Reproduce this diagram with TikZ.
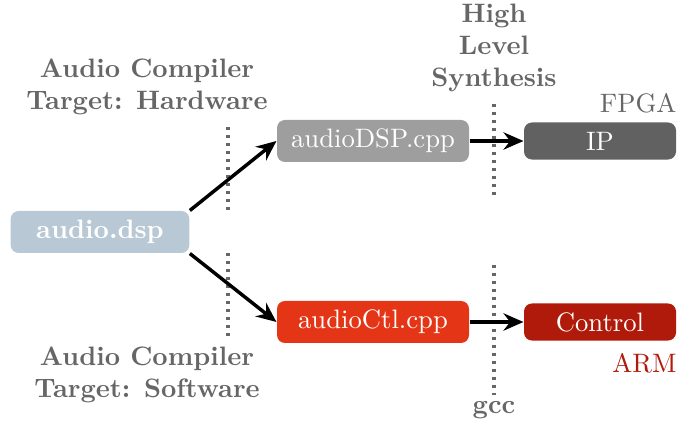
\documentclass[tikz,border=0pt]{standalone}
\usetikzlibrary{arrows.meta}
\definecolor{srcblue}{HTML}{B8C8D4}
\definecolor{cppgray}{HTML}{9E9E9E}
\definecolor{ipgray}{HTML}{616161}
\definecolor{ctlred}{HTML}{E53517}
\definecolor{armred}{HTML}{B01A0A}
\definecolor{labgray}{HTML}{666666}
\tikzset{
  box/.style={rounded corners=3pt, text=white, inner sep=0pt, minimum height=15.75pt},
  lab/.style={text=labgray, font=\bfseries, align=center, inner sep=0pt},
  conn/.style={line width=1.3pt, -{Stealth[length=7.5pt,width=6.5pt,inset=2.5pt]}},
  sep/.style={draw=labgray, line width=1.3pt, dash pattern=on 1.3pt off 1.7pt}
}
\begin{document}
\begin{tikzpicture}[x=0.375pt,y=-0.375pt]
\useasboundingbox (0,0) rectangle (678,423);
\node[box, fill=srcblue, minimum width=67pt, font=\bfseries] (dsp) at (100,232) {audio.dsp};
\node[box, fill=cppgray, minimum width=72pt] (dspcpp) at (373,141) {audioDSP.cpp};
\node[box, fill=ctlred, minimum width=72pt] (ctl) at (373,322) {audioCtl.cpp};
\node[box, fill=ipgray, minimum width=57pt, minimum height=13.9pt] (ip) at (600,141) {IP};
\node[box, fill=armred, minimum width=57pt, minimum height=13.9pt] (control) at (600,322) {Control};
\node[anchor=east, text=labgray, inner sep=0pt] (fpga) at (677,103) {FPGA};
\node[anchor=east, text=armred, inner sep=0pt] (arm) at (677,363) {ARM};
\node[lab] (hw) at (147,87) {Audio Compiler\\Target: Hardware};
\node[lab] (sw) at (147,375) {Audio Compiler\\Target: Software};
\node[lab] (hls) at (494,48) {High\\Level\\Synthesis};
\node[lab] (gcc) at (494,410) {gcc};
\draw[sep] (228,127) -- (228,212);
\draw[sep] (228,253) -- (228,338);
\draw[sep] (494,104) -- (494,197);
\draw[sep] (494,265) -- (494,395);
\draw[conn] (dsp.north east) -- (dspcpp.west);
\draw[conn] (dsp.south east) -- (ctl.west);
\draw[conn] (dspcpp.east) -- (ip.west);
\draw[conn] (ctl.east) -- (control.west);
\end{tikzpicture}
\end{document}
